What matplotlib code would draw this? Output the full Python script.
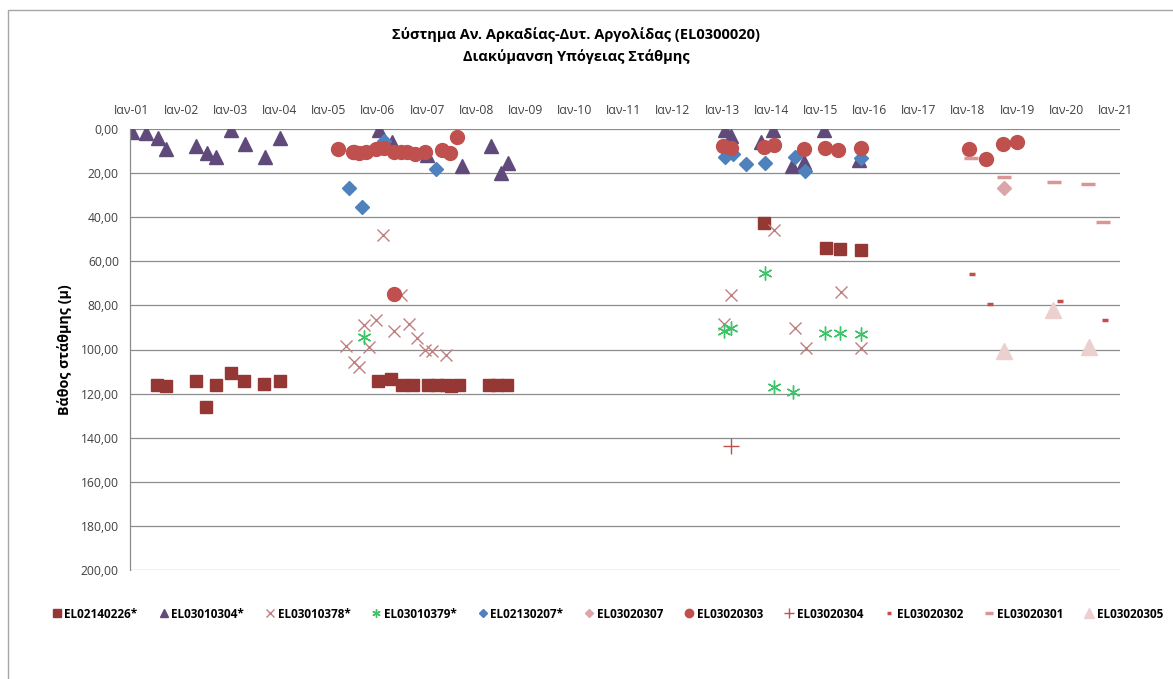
import numpy as np
import matplotlib.pyplot as plt
from matplotlib.patches import Rectangle

plt.rcParams['font.family'] = ['Open Sans', 'DejaVu Sans']

# ημερομηνίες μετρήσεων σε δεκαδικά έτη, βάθος στάθμης σε μ
t_0226 = [2001.51, 2001.69, 2002.30, 2002.50, 2002.70, 2003.01, 2003.28, 2003.69, 2004.02,
          2006.00, 2006.27, 2006.50, 2006.71, 2007.01, 2007.21, 2007.38, 2007.48, 2007.65,
          2008.26, 2008.43, 2008.63, 2013.86, 2015.12, 2015.39, 2015.82]
d_0226 = [116.1, 116.7, 114.4, 126.2, 116.1, 110.8, 114.1, 115.6, 114.5,
          114.4, 113.6, 116.1, 116.1, 116.1, 116.1, 116.1, 116.6, 116.1,
          116.1, 116.1, 116.1, 42.6, 53.8, 54.2, 54.7]

t_0304 = [2001.00, 2001.28, 2001.52, 2001.70, 2002.30, 2002.52, 2002.70, 2003.02, 2003.30,
          2003.70, 2004.02, 2006.02, 2006.28, 2007.00, 2007.71, 2008.30, 2008.51, 2008.65,
          2013.06, 2013.18, 2013.79, 2014.03, 2014.43, 2014.66, 2015.07, 2015.79]
d_0304 = [1.5, 2.0, 4.2, 9.2, 7.6, 10.8, 12.9, 0.5, 6.8,
          12.6, 4.0, 0.5, 5.8, 11.8, 16.7, 7.6, 20.0, 15.6,
          0.5, 3.0, 5.8, 0.5, 16.8, 14.8, 0.6, 14.2]

t_0378 = [2005.36, 2005.52, 2005.62, 2005.71, 2005.81, 2005.96, 2006.10, 2006.32, 2006.48,
          2006.64, 2006.80, 2006.96, 2007.10, 2007.38, 2013.03, 2013.18, 2014.06, 2014.48,
          2014.70, 2015.41, 2015.83]
d_0378 = [98.2, 105.8, 108.0, 89.1, 99.0, 86.4, 48.2, 91.4, 75.2,
          88.3, 94.8, 100.0, 100.5, 102.4, 88.3, 75.5, 45.9, 90.3,
          99.2, 74.0, 99.2]

t_0379 = [2005.71, 2013.04, 2013.19, 2013.87, 2014.06, 2014.45, 2015.10, 2015.39, 2015.82]
d_0379 = [94.4, 91.4, 90.2, 65.2, 117.1, 119.1, 92.6, 92.6, 92.9]

t_0207 = [2005.41, 2005.68, 2006.13, 2007.18, 2013.06, 2013.23, 2013.48, 2013.87, 2014.48,
          2014.68, 2015.83]
d_0207 = [26.7, 35.3, 5.5, 18.2, 12.9, 11.5, 15.9, 15.3, 12.6, 19.0, 13.3]

t_0307 = [2018.73]
d_0307 = [26.7]

t_0303 = [2005.19, 2005.49, 2005.52, 2005.61, 2005.76, 2005.96, 2006.13, 2006.33, 2006.33,
          2006.47, 2006.60, 2006.76, 2006.96, 2007.31, 2007.46, 2007.60,
          2013.02, 2013.18, 2013.86, 2014.06, 2014.67, 2015.10, 2015.36, 2015.82,
          2018.02, 2018.37, 2018.71, 2019.00]
d_0303 = [9.1, 10.3, 10.6, 11.1, 10.3, 9.2, 8.8, 10.3, 75.0,
          10.6, 10.3, 11.2, 10.3, 9.5, 10.8, 3.8,
          7.7, 8.5, 8.0, 7.3, 9.2, 8.5, 9.5, 8.8,
          9.2, 13.8, 6.8, 5.9]

t_0304b = [2013.19]
d_0304b = [143.6]

t_0302 = [2018.08, 2018.45, 2019.87, 2020.78]
d_0302 = [65.9, 79.5, 77.9, 86.8]

t_0301 = [2018.07, 2018.73, 2019.74, 2020.43, 2020.74]
d_0301 = [13.3, 21.8, 23.9, 25.0, 42.1]

t_0305 = [2018.73, 2019.72, 2020.45]
d_0305 = [100.5, 82.0, 99.0]

years = list(range(2001, 2022))
year_labels = ['Ιαν-%02d' % (y % 100) for y in years]

fig = plt.figure(figsize=(11.73, 6.79), dpi=100)
ax = fig.add_axes([130 / 1173, 1 - 570 / 679, 990 / 1173, 441 / 679])

# πλαίσιο γραφήματος
fig.patches.append(Rectangle((8 / 1173, -0.05), 1.2, 1 - 10 / 679 + 0.05,
                             transform=fig.transFigure, fill=False,
                             edgecolor='#a6a6a6', lw=1))

ax.plot(t_0226, d_0226, ls='none', marker='s', ms=9, color='#953735', label='EL02140226*')
ax.plot(t_0304, d_0304, ls='none', marker='^', ms=10, color='#604a7b', label='EL03010304*')
ax.plot(t_0378, d_0378, ls='none', marker='x', ms=9, mew=1, color='#c0807f', label='EL03010378*')
ax.plot(t_0379, d_0379, ls='none', marker=(6, 2, 0), ms=10, mew=1, color='#3cc469', label='EL03010379*')
ax.plot(t_0207, d_0207, ls='none', marker='D', ms=7, color='#4f81bd', label='EL02130207*')
ax.plot(t_0307, d_0307, ls='none', marker='D', ms=7, color='#dba5aa', label='EL03020307')
ax.plot(t_0303, d_0303, ls='none', marker='o', ms=10, color='#c0504d', label='EL03020303')
ax.plot(t_0304b, d_0304b, ls='none', marker='+', ms=11, mew=1, color='#c0504d', label='EL03020304')
ax.plot(t_0302, d_0302, ls='none', marker='_', ms=5, mew=2.5, color='#c0504d', label='EL03020302')
ax.plot(t_0301, d_0301, ls='none', marker='_', ms=10, mew=2.5, color='#d99694', label='EL03020301')
ax.plot(t_0305, d_0305, ls='none', marker='^', ms=11, color='#ecd0cf', label='EL03020305')

ax.set_xlim(2000.96, 2021.09)
ax.set_ylim(200, 0)
ax.set_yticks(np.arange(0, 201, 20))
ax.set_yticklabels(['%d,00' % v for v in range(0, 201, 20)], fontsize=8.7, color='#404040')
ax.set_xticks(years)
ax.set_xticklabels(year_labels, fontsize=8.7, color='#404040')
ax.xaxis.tick_top()
ax.tick_params(length=0)
ax.tick_params(axis='x', pad=9)
ax.tick_params(axis='y', pad=8)
ax.grid(axis='y', color='#8c8c8c', lw=0.9)
ax.set_axisbelow(True)
for s in ['top', 'right', 'bottom']:
    ax.spines[s].set_visible(False)
ax.spines['left'].set_color('#8c8c8c')
ax.spines['left'].set_linewidth(0.9)

ax.set_ylabel('Βάθος στάθμης (μ)', fontsize=10.3, fontweight='bold')
ax.yaxis.set_label_coords(-0.0586, 0.5)

fig.text(576 / 1173, 1 - 35 / 679, 'Σύστημα Αν. Αρκαδίας-Δυτ. Αργολίδας (EL0300020)',
         ha='center', va='center', fontsize=10.5, fontweight='bold')
fig.text(576 / 1173, 1 - 57 / 679, 'Διακύμανση Υπόγειας Στάθμης',
         ha='center', va='center', fontsize=10.5, fontweight='bold')

fig.legend(loc='center', bbox_to_anchor=(608 / 1173, 1 - 614 / 679), ncol=11,
           frameon=False, prop={'size': 8.5, 'weight': 'bold'}, markerscale=0.6,
           handlelength=0.7, handletextpad=0.3, columnspacing=1.85)

fig.savefig('out.png', dpi=100)
